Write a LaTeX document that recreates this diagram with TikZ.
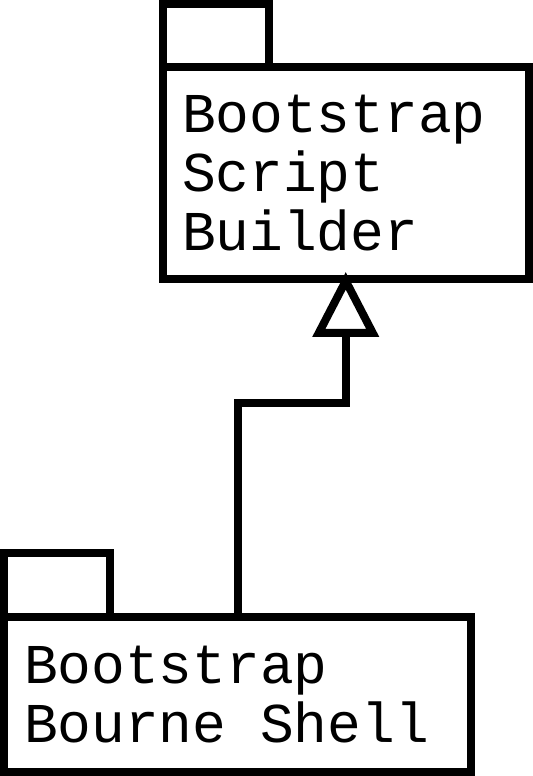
\documentclass[tikz,border=0pt]{standalone}
\usepackage{fontspec}
\setmonofont{Liberation Mono}
\usetikzlibrary{arrows.meta, positioning}

\tikzset{
    pkg/.style={draw, line width=0.16cm, outer sep=0pt, align=left, inner ysep=0pt,
        font=\ttfamily\fontsize{32}{33.4}\selectfont},
    pkgtab/.style={draw, line width=0.16cm, outer sep=0pt, anchor=south west, inner sep=0pt,
        minimum width=2.13cm, minimum height=1.27cm},
    inherits/.style={line width=0.16cm, miter limit=20, shorten >=-0.14cm,
        -{Triangle[open, length=1.3cm, width=1.3cm, line width=0.16cm]}}
}

\begin{document}
\begin{tikzpicture}[x=0.02cm, y=-0.02cm]
    \useasboundingbox (0, 0) rectangle (533, 776);
    \node[pkg, minimum width=7.33cm, minimum height=4.24cm, text width=6.55cm, inner xsep=0.39cm] (builder) at (345.75, 173) {Bootstrap\\Script\\Builder};
    \node[pkgtab] (buildertab) at (builder.north west) {};
    \node[pkg, minimum width=9.34cm, minimum height=3.1cm, text width=8.54cm, inner xsep=0.4cm] (bourne) at (237.5, 694.5) {Bootstrap\\Bourne\hspace{0.6em}Shell};
    \node[pkgtab, minimum width=2.12cm, minimum height=1.28cm] (bournetab) at (bourne.north west) {};
    \draw[inherits] (bourne.north) -- ++(0, -214) -| (builder.south);
\end{tikzpicture}
\end{document}
